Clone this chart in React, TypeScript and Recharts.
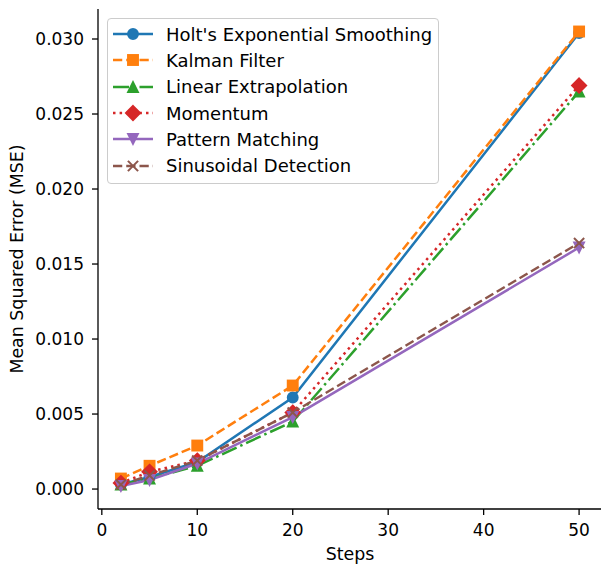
import React from "react";
import { LineChart, Line, XAxis, YAxis, Legend, Label } from "recharts";

const STEPS = [2, 5, 10, 20, 50];
const HOLT = [0.0003, 0.0008, 0.0018, 0.0061, 0.0304];
const KALMAN = [0.0007, 0.00155, 0.0029, 0.0069, 0.0305];
const LINEAR = [0.0003, 0.0007, 0.00155, 0.0045, 0.0265];
const MOMENTUM = [0.0004, 0.00115, 0.0019, 0.0051, 0.0269];
const PATTERN = [0.0002, 0.0006, 0.0017, 0.0048, 0.0161];
const SINUSOIDAL = [0.0003, 0.0009, 0.0019, 0.0051, 0.0164];

const X_TICKS = [0, 10, 20, 30, 40, 50];
const Y_TICKS = [0, 0.005, 0.01, 0.015, 0.02, 0.025, 0.03];

type Shape = "circle" | "square" | "up" | "diamond" | "down" | "x";
interface Series { key: string; name: string; values: number[]; color: string; dash?: string; shape: Shape }

const SERIES: Series[] = [
  { key: "holt", name: "Holt's Exponential Smoothing", values: HOLT, color: "#1f77b4", shape: "circle" },
  { key: "kalman", name: "Kalman Filter", values: KALMAN, color: "#ff7f0e", dash: "9.25 4", shape: "square" },
  { key: "linear", name: "Linear Extrapolation", values: LINEAR, color: "#2ca02c", dash: "16 4 2.5 4", shape: "up" },
  { key: "momentum", name: "Momentum", values: MOMENTUM, color: "#d62728", dash: "2.5 4.1", shape: "diamond" },
  { key: "pattern", name: "Pattern Matching", values: PATTERN, color: "#9467bd", shape: "down" },
  { key: "sinusoidal", name: "Sinusoidal Detection", values: SINUSOIDAL, color: "#8c564b", dash: "9.25 4", shape: "x" },
];

const rows = STEPS.map((step, i) => {
  const r: Record<string, number> = { step };
  SERIES.forEach((s) => { r[s.key] = s.values[i]; });
  return r;
});

const FONT = "'DejaVu Sans', sans-serif";
const FS = 17;
const LABEL_FS = 17.4;
const LEGEND_FS = 18;
const LW = 2.5;
const MS = 10.2;
const EW = 1.7;

function marker(shape: Shape, color: string, cx: number, cy: number, key?: string) {
  const h = MS / 2;
  const common = { fill: color, stroke: color, strokeWidth: EW, strokeLinejoin: "miter" as const };
  switch (shape) {
    case "circle":
      return <circle key={key} cx={cx} cy={cy} r={h} {...common} />;
    case "square":
      return <rect key={key} x={cx - h} y={cy - h} width={MS} height={MS} {...common} />;
    case "up":
      return <polygon key={key} points={`${cx},${cy - h} ${cx - h},${cy + h} ${cx + h},${cy + h}`} {...common} />;
    case "down":
      return <polygon key={key} points={`${cx},${cy + h} ${cx - h},${cy - h} ${cx + h},${cy - h}`} {...common} />;
    case "diamond": {
      const d = MS * Math.SQRT2 / 2;
      return <polygon key={key} points={`${cx},${cy - d} ${cx + d},${cy} ${cx},${cy + d} ${cx - d},${cy}`} {...common} />;
    }
    case "x":
      return (
        <g key={key} stroke={color} strokeWidth={2}>
          <line x1={cx - h} y1={cy - h} x2={cx + h} y2={cy + h} />
          <line x1={cx - h} y1={cy + h} x2={cx + h} y2={cy - h} />
        </g>
      );
  }
}

function LegendBox() {
  return (
    <div style={{
      width: 330, background: "rgba(255,255,255,0.8)", border: "1px solid #cccccc", borderRadius: 4,
      padding: "2px 0 4px 0", fontFamily: FONT, fontSize: LEGEND_FS, color: "#000",
    }}>
      {SERIES.map((s) => (
        <div key={s.key} style={{ display: "flex", alignItems: "center", height: 26.3 }}>
          <svg width={40} height={20} style={{ marginLeft: 5, marginRight: 13, overflow: "visible" }}>
            <line x1={0} y1={10} x2={40} y2={10} stroke={s.color} strokeWidth={LW} strokeDasharray={s.dash} />
            {marker(s.shape, s.color, 20, 10)}
          </svg>
          <span style={{ whiteSpace: "nowrap" }}>{s.name}</span>
        </div>
      ))}
    </div>
  );
}

const tickStyle = { fontFamily: FONT, fontSize: FS, fill: "#000" };
const axisLine = { stroke: "#000", strokeWidth: 1.3 };

export default function App() {
  return (
    <div style={{ position: "absolute", left: 0, top: 0, width: 601, height: 567, overflow: "hidden", background: "#fff" }}>
      <LineChart width={603} height={567} data={rows} margin={{ top: 9, right: 1, bottom: 0, left: 0 }}>
        <XAxis
          dataKey="step" type="number" domain={[-0.4, 52.4]} ticks={X_TICKS} allowDataOverflow
          height={58} tickSize={6} tickMargin={9} tick={tickStyle} axisLine={axisLine} tickLine={axisLine}
        >
          <Label
            content={() => (
              <text x={350} y={560} textAnchor="middle" fontFamily={FONT} fontSize={LABEL_FS} fill="#000">Steps</text>
            )}
          />
        </XAxis>
        <XAxis xAxisId="top" orientation="top" type="number" domain={[-0.4, 52.4]} height={0} tick={false} tickLine={false} axisLine={axisLine} />
        <YAxis
          type="number" domain={[-0.00133, 0.032]} ticks={Y_TICKS} allowDataOverflow width={98}
          tickSize={6} tickMargin={8} tick={tickStyle} axisLine={axisLine} tickLine={axisLine}
          tickFormatter={(v: number) => v.toFixed(3)}
        >
          <Label
            content={() => (
              <text x={17} y={259} transform="rotate(-90, 17, 259)" textAnchor="middle" dominantBaseline="central"
                fontFamily={FONT} fontSize={LABEL_FS} fill="#000">Mean Squared Error (MSE)</text>
            )}
          />
        </YAxis>
        {SERIES.map((s) => (
          <Line
            key={s.key} dataKey={s.key} name={s.name} stroke={s.color} strokeWidth={LW}
            strokeDasharray={s.dash} isAnimationActive={false} activeDot={false}
            dot={(p: any) => marker(s.shape, s.color, p.cx, p.cy, `${s.key}-${p.index}`)}
          />
        ))}
        <Legend
          layout="horizontal" verticalAlign="middle" align="center"
          wrapperStyle={{ left: 107, top: 18, width: 332 }}
          content={() => <LegendBox />}
        />
      </LineChart>
    </div>
  );
}
